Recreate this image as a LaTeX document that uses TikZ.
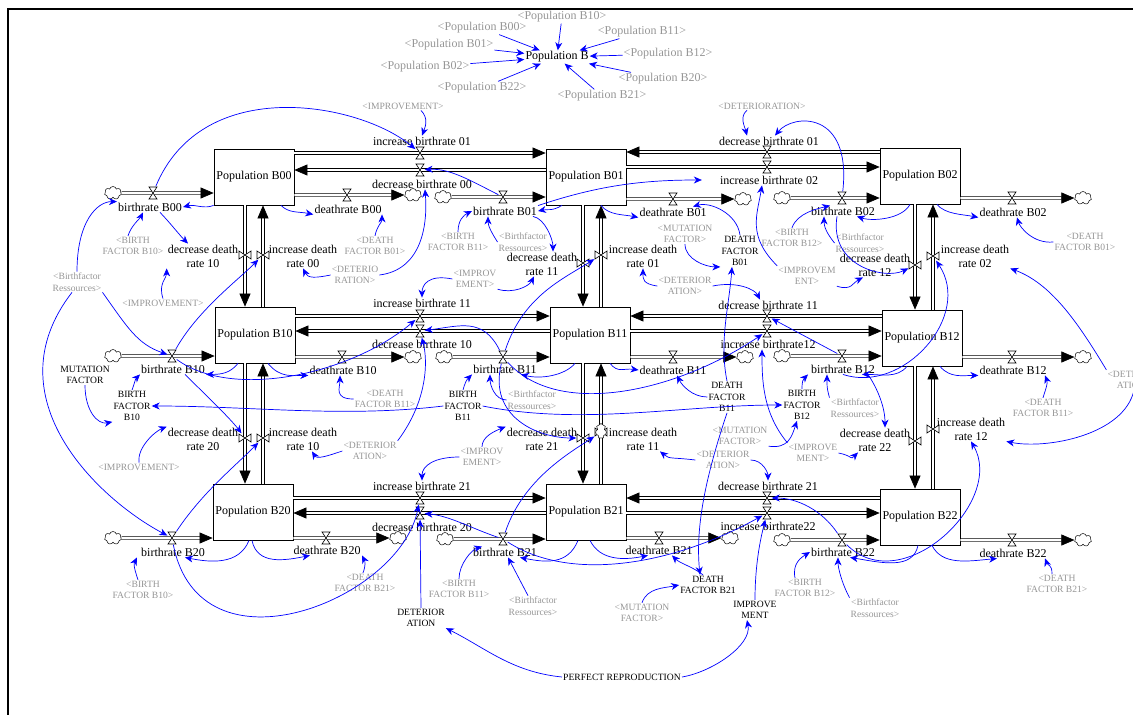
\documentclass[tikz,border=0pt]{standalone}
\usepackage{fontspec}
\setmainfont{Liberation Serif}
\usetikzlibrary{arrows.meta,shapes.symbols}
\definecolor{shadowgray}{RGB}{150,150,150}
\tikzset{
  stock/.style={draw, line width=0.8pt, minimum width=80pt, minimum height=56pt, inner sep=1pt, font=\fontsize{12}{14}\selectfont},
  lbl/.style={align=center, inner sep=1pt, font=\fontsize{12}{14}\selectfont},
  aux/.style={align=center, inner sep=1pt, font=\fontsize{9.6}{11.5}\selectfont},
  shadow/.style={aux, text=shadowgray},
  shadowbig/.style={lbl, text=shadowgray},
  cloudn/.style={cloud, cloud puffs=7, draw, fill=white, line width=0.5pt, minimum width=17pt, minimum height=13pt, inner sep=0pt},
  valveh/.style={minimum width=9pt, minimum height=13pt, inner sep=0pt},
  valvev/.style={minimum width=13pt, minimum height=9pt, inner sep=0pt},
  flow/.style={double, double distance=2pt, line width=0.6pt, -{Triangle[length=13pt,width=11pt]}},
  link/.style={draw=blue, line width=0.7pt, -{Stealth[length=8pt,width=7pt,inset=2.5pt]}},
  hourglass/.pic={\draw[fill=white, line width=0.6pt] (-4pt,6pt) -- (4pt,6pt) -- (-4pt,-6pt) -- (4pt,-6pt) -- cycle;},
  bowtie/.pic={\draw[fill=white, line width=0.6pt] (-6pt,-4pt) -- (-6pt,4pt) -- (6pt,-4pt) -- (6pt,4pt) -- cycle;}
}
\begin{document}
\begin{tikzpicture}[x=1pt, y=-1pt]
  \useasboundingbox (0,0) rectangle (1133,715);
  % 枠
  \draw[line width=2pt] (8,715) -- (8,9) -- (1133,9);

  % ストック
  \node[stock] (B00) at (254,177) {Population B00};
  \node[stock] (B01) at (586,177) {Population B01};
  \node[stock] (B02) at (920,176) {Population B02};
  \node[stock] (B10) at (255,335) {Population B10};
  \node[stock] (B11) at (590,335) {Population B11};
  \node[stock] (B12) at (922,338) {Population B12};
  \node[stock] (B20) at (253,512) {Population B20};
  \node[stock] (B21) at (586,512) {Population B21};
  \node[stock] (B22) at (920,517) {Population B22};

  % 雲
  \foreach \n/\x/\y in {cb00/113/193, cd00/413/195, cb01/443/197, cd01/743/199, cb02/782/198, cd02/1083/198,
      cb10/113/356, cd10/413/357, cb11/444/357, cd11/745/357, cb12/782/356, cd12/1083/357,
      cb20/113/538, cd20/398/538, cb21/445/539, cd21/730/538, cb22/782/540, cd22/1083/540}
    \node[cloudn] (\n) at (\x,\y) {};

  % バルブの位置
  \foreach \n/\x/\y in {vb00/153/193, vd00/347/195, vibr01/420/153, vdbr00/420/170, vb01/503/197, vd01/673/199,
      vdbr01/767/152, vibr02/767/167, vb02/842/198, vd02/1012/198,
      vb10/172/356, vd10/342/357, vibr11/420/316, vdbr10/420/331, vb11/503/357, vd11/673/357,
      vdbr11/767/316, vibr12/767/331, vb12/842/356, vd12/1012/357,
      vb20/172/538, vd20/326/538, vibr21/420/498, vdbr20/420/513, vb21/503/539, vd21/659/538,
      vdbr21/767/498, vibr22/767/513, vb22/842/540, vd22/1012/540}
    \node[valveh] (\n) at (\x,\y) {};
  \foreach \n/\x/\y in {vddr10/245/255, vidr00/263/255, vddr20/245/438, vidr10/263/438,
      vddr11/583/263, vidr01/601/255, vddr21/583/438, vidr11/601/432,
      vddr12/915/265, vidr02/933/256, vddr22/915/441, vidr12/933/429}
    \node[valvev] (\n) at (\x,\y) {};

  % 流れ(横)
  \draw[flow] (cb00) -- (B00.west |- cb00);
  \draw[flow] (B00.east |- vd00) -- (cd00);
  \draw[flow] (B00.east |- vibr01) -- (B01.west |- vibr01);
  \draw[flow] (B01.west |- vdbr00) -- (B00.east |- vdbr00);
  \draw[flow] (cb01) -- (B01.west |- cb01);
  \draw[flow] (B01.east |- vd01) -- (cd01);
  \draw[flow] (B02.west |- vdbr01) -- (B01.east |- vdbr01);
  \draw[flow] (B01.east |- vibr02) -- (B02.west |- vibr02);
  \draw[flow] (cb02) -- (B02.west |- cb02);
  \draw[flow] (B02.east |- vd02) -- (cd02);

  \draw[flow] (cb10) -- (B10.west |- cb10);
  \draw[flow] (B10.east |- vd10) -- (cd10);
  \draw[flow] (B10.east |- vibr11) -- (B11.west |- vibr11);
  \draw[flow] (B11.west |- vdbr10) -- (B10.east |- vdbr10);
  \draw[flow] (cb11) -- (B11.west |- cb11);
  \draw[flow] (B11.east |- vd11) -- (cd11);
  \draw[flow] (B12.west |- vdbr11) -- (B11.east |- vdbr11);
  \draw[flow] (B11.east |- vibr12) -- (B12.west |- vibr12);
  \draw[flow] (cb12) -- (B12.west |- cb12);
  \draw[flow] (B12.east |- vd12) -- (cd12);

  \draw[flow] (cb20) -- (B20.west |- cb20);
  \draw[flow] (B20.east |- vd20) -- (cd20);
  \draw[flow] (B20.east |- vibr21) -- (B21.west |- vibr21);
  \draw[flow] (B21.west |- vdbr20) -- (B20.east |- vdbr20);
  \draw[flow] (cb21) -- (B21.west |- cb21);
  \draw[flow] (B21.east |- vd21) -- (cd21);
  \draw[flow] (B22.west |- vdbr21) -- (B21.east |- vdbr21);
  \draw[flow] (B21.east |- vibr22) -- (B22.west |- vibr22);
  \draw[flow] (cb22) -- (B22.west |- cb22);
  \draw[flow] (B22.east |- vd22) -- (cd22);

  % 流れ(縦)
  \draw[flow] (B00.south -| vddr10) -- (B10.north -| vddr10);
  \draw[flow] (B10.north -| vidr00) -- (B00.south -| vidr00);
  \draw[flow] (B10.south -| vddr20) -- (B20.north -| vddr20);
  \draw[flow] (B20.north -| vidr10) -- (B10.south -| vidr10);
  \draw[flow] (B01.south -| vddr11) -- (B11.north -| vddr11);
  \draw[flow] (B11.north -| vidr01) -- (B01.south -| vidr01);
  \draw[flow] (B11.south -| vddr21) -- (B21.north -| vddr21);
  \draw[flow] (B21.north -| vidr11) -- (B11.south -| vidr11);
  \draw[flow] (B02.south -| vddr12) -- (B12.north -| vddr12);
  \draw[flow] (B12.north -| vidr02) -- (B02.south -| vidr02);
  \draw[flow] (B12.south -| vddr22) -- (B22.north -| vddr22);
  \draw[flow] (B22.north -| vidr12) -- (B12.south -| vidr12);

  % バルブ
  \foreach \v in {vb00,vd00,vibr01,vdbr00,vb01,vd01,vdbr01,vibr02,vb02,vd02,
      vb10,vd10,vibr11,vdbr10,vb11,vd11,vdbr11,vibr12,vb12,vd12,
      vb20,vd20,vibr21,vdbr20,vb21,vd21,vdbr21,vibr22,vb22,vd22}
    \pic at (\v) {hourglass};
  \foreach \v in {vddr10,vidr00,vddr20,vidr10,vddr11,vidr01,vddr21,vidr11,vddr12,vidr02,vddr22,vidr12}
    \pic at (\v) {bowtie};
  \node[cloudn, minimum width=11pt, minimum height=15pt] (cx) at (601,431) {};

  % 流れの名前
  \node[lbl] (lb00) at (150,207) {birthrate B00};
  \node[lbl] (ld00) at (348,209) {deathrate B00};
  \node[lbl] (libr01) at (422,141) {increase birthrate 01};
  \node[lbl] (ldbr00) at (422,184) {decrease birthrate 00};
  \node[lbl] (lb01) at (505,211) {birthrate B01};
  \node[lbl] (ld01) at (673,212) {deathrate B01};
  \node[lbl] (ldbr01) at (769,141) {decrease birthrate 01};
  \node[lbl] (libr02) at (769,180) {increase birthrate 02};
  \node[lbl] (lb02) at (843,211) {birthrate B02};
  \node[lbl] (ld02) at (1013,212) {deathrate B02};
  \node[lbl] (lddr10) at (203,256) {decrease death\\rate 10};
  \node[lbl] (lidr00) at (303,256) {increase death\\rate 00};
  \node[lbl] (lddr11) at (542,264) {decrease death\\rate 11};
  \node[lbl] (lidr01) at (643,256) {increase death\\rate 01};
  \node[lbl] (lddr12) at (875,265) {decrease death\\rate 12};
  \node[lbl] (lidr02) at (975,256) {increase death\\rate 02};

  \node[lbl] (libr11) at (422,303) {increase birthrate 11};
  \node[lbl] (ldbr10) at (422,344) {decrease birthrate 10};
  \node[lbl] (lb10) at (173,369) {birthrate B10};
  \node[lbl] (ld10) at (343,370) {deathrate B10};
  \node[lbl] (lb11) at (505,369) {birthrate B11};
  \node[lbl] (ld11) at (673,370) {deathrate B11};
  \node[lbl] (ldbr11) at (768,305) {decrease birthrate 11};
  \node[lbl] (libr12) at (768,344) {increase birthrate12};
  \node[lbl] (lb12) at (843,369) {birthrate B12};
  \node[lbl] (ld12) at (1013,370) {deathrate B12};
  \node[lbl] (lddr20) at (203,439) {decrease death\\rate 20};
  \node[lbl] (lidr10) at (303,439) {increase death\\rate 10};
  \node[lbl] (lddr21) at (542,439) {decrease death\\rate 21};
  \node[lbl] (lidr11) at (643,439) {increase death\\rate 11};
  \node[lbl] (lddr22) at (875,440) {decrease death\\rate 22};
  \node[lbl] (lidr12) at (971,429) {increase death\\rate 12};

  \node[lbl] (libr21) at (422,486) {increase birthrate 21};
  \node[lbl] (ldbr20) at (422,527) {decrease birthrate 20};
  \node[lbl] (lb20) at (173,552) {birthrate B20};
  \node[lbl] (ld20) at (327,550) {deathrate B20};
  \node[lbl] (lb21) at (505,552) {birthrate B21};
  \node[lbl] (ld21) at (659,550) {deathrate B21};
  \node[lbl] (ldbr21) at (768,486) {decrease birthrate 21};
  \node[lbl] (libr22) at (768,526) {increase birthrate22};
  \node[lbl] (lb22) at (843,552) {birthrate B22};
  \node[lbl] (ld22) at (1013,553) {deathrate B22};

  % Population B
  \node[lbl] (popB) at (557,57) {Population B};
  \node[shadowbig] (pB10) at (562,17) {<Population B10>};
  \node[shadowbig] (pB00) at (482,28) {<Population B00>};
  \node[shadowbig] (pB11) at (642,32) {<Population B11>};
  \node[shadowbig] (pB01) at (449,45) {<Population B01>};
  \node[shadowbig] (pB12) at (668,54) {<Population B12>};
  \node[shadowbig] (pB02) at (425,67) {<Population B02>};
  \node[shadowbig] (pB20) at (663,79) {<Population B20>};
  \node[shadowbig] (pB22) at (482,88) {<Population B22>};
  \node[shadowbig] (pB21) at (602,96) {<Population B21>};
  \foreach \p in {pB00,pB01,pB02,pB10,pB11,pB12,pB20,pB21,pB22}
    \draw[link] (\p) -- (popB);

  % 影の変数
  \node[shadow] (s1) at (403,106) {<IMPROVEMENT>};
  \node[shadow] (s2) at (762,106) {<DETERIORATION>};
  \node[shadow] (s3) at (133,246) {<BIRTH\\FACTOR B10>};
  \node[shadow] (s4) at (375,246) {<DEATH\\FACTOR B01>};
  \node[shadow] (s5) at (77,282) {<Birthfactor\\Ressources>};
  \node[shadow] (s6) at (163,303) {<IMPROVEMENT>};
  \node[shadow] (s7) at (355,275) {<DETERIO\\RATION>};
  \node[shadow] (s8) at (458,242) {<BIRTH\\FACTOR B11>};
  \node[shadow] (s9) at (523,242) {<Birthfactor\\Ressources>};
  \node[shadow] (s10) at (685,234) {<MUTATION\\FACTOR>};
  \node[shadow] (s11) at (685,286) {<DETERIOR\\ATION>};
  \node[shadow] (s12) at (475,279) {<IMPROV\\EMENT>};
  \node[shadow] (s13) at (792,238) {<BIRTH\\FACTOR B12>};
  \node[shadow] (s14) at (860,243) {<Birthfactor\\Ressources>};
  \node[shadow] (s15) at (807,276) {<IMPROVEM\\ENT>};
  \node[shadow] (s16) at (1085,242) {<DEATH\\FACTOR B01>};
  \node[shadow] (s17) at (139,467) {<IMPROVEMENT>};
  \node[shadow] (s18) at (385,399) {<DEATH\\FACTOR B11>};
  \node[shadow] (s19) at (370,451) {<DETERIOR\\ATION>};
  \node[shadow] (s20) at (532,400) {<Birthfactor\\Ressources>};
  \node[shadow] (s21) at (482,457) {<IMPROV\\EMENT>};
  \node[shadow] (s22) at (740,436) {<MUTATION\\FACTOR>};
  \node[shadow] (s23) at (723,460) {<DETERIOR\\ATION>};
  \node[shadow] (s24) at (855,408) {<Birthfactor\\Ressources>};
  \node[shadow] (s25) at (813,453) {<IMPROVE\\MENT>};
  \node[shadow] (s26) at (1043,408) {<DEATH\\FACTOR B11>};
  \node[shadow] (s27) at (1134,380) {<DETERIOR\\ATION>};
  \node[shadow] (s28) at (143,590) {<BIRTH\\FACTOR B10>};
  \node[shadow] (s29) at (365,583) {<DEATH\\FACTOR B21>};
  \node[shadow] (s30) at (459,589) {<BIRTH\\FACTOR B11>};
  \node[shadow] (s31) at (533,606) {<Birthfactor\\Ressources>};
  \node[shadow] (s32) at (642,613) {<MUTATION\\FACTOR>};
  \node[shadow] (s33) at (805,588) {<BIRTH\\FACTOR B12>};
  \node[shadow] (s34) at (875,608) {<Birthfactor\\Ressources>};
  \node[shadow] (s35) at (1057,584) {<DEATH\\FACTOR B21>};

  % 補助変数
  \node[aux] (a1) at (740,251) {DEATH\\FACTOR\\B01};
  \node[aux] (a2) at (85,375) {MUTATION\\FACTOR};
  \node[aux] (a3) at (132,406) {BIRTH\\FACTOR\\B10};
  \node[aux] (a4) at (463,406) {BIRTH\\FACTOR\\B11};
  \node[aux] (a5) at (727,397) {DEATH\\FACTOR\\B11};
  \node[aux] (a6) at (802,405) {BIRTH\\FACTOR\\B12};
  \node[aux] (a7) at (421,618) {DETERIOR\\ATION};
  \node[aux] (a8) at (708,585) {DEATH\\FACTOR B21};
  \node[aux] (a9) at (755,610) {IMPROVE\\MENT};
  \node[aux] (a10) at (622,677) {PERFECT REPRODUCTION};

  % 矢印(上の段)
  \draw[link] ([xshift=18pt]s1.south) .. controls +(8,8) and +(3,-8) .. (libr01.north);
  \draw[link] ([xshift=-15pt]s2.south) .. controls +(-8,6) and +(-2,-8) .. ([xshift=-22pt]ldbr01.north);
  \draw[link] ([xshift=-5pt]s3.north) .. controls +(3,-10) and +(-3,6) .. ([xshift=-7pt]lb00.south);
  \draw[link] (s5.north) .. controls +(0,-50) and +(-20,0) .. (lb00.north west);
  \draw[link] (B00.south west) .. controls +(-10,4) and +(12,-3) .. (lb00.east);
  \draw[link] ([xshift=27pt]B00.south) .. controls +(8,8) and +(-15,-3) .. (ld00.south west);
  \draw[link] (s4.north) .. controls +(2,-10) and +(0,8) .. ([xshift=34pt]ld00.south);
  \draw[link] ([xshift=10pt]lb00.south) .. controls +(8,8) and +(-8,-8) .. ([xshift=-15pt]lddr10.north);
  \draw[link] (s6.north) .. controls +(-5,-15) and +(0,10) .. (lddr10.south west);
  \draw[link] (s7.west) .. controls +(-15,3) and +(5,10) .. (lidr00.south);
  \draw[link] (s7.east) .. controls +(40,-5) and +(3,40) .. ([xshift=3pt]ldbr00.south);
  \draw[link] (vb00) .. controls +(50,-120) and +(-60,-50) .. (vibr01);
  \draw[link] (vb01) .. controls +(-30,-15) and +(30,-2) .. (vdbr00);
  \draw[link] (lb01.north east) .. controls +(60,-20) and +(-60,0) .. ([xshift=-17pt]libr02.west);
  \draw[link] (s8.north) .. controls +(0,-12) and +(-8,4) .. (lb01.west);
  \draw[link] (s9.west) .. controls +(-5,-8) and +(0,10) .. ([xshift=-17pt]lb01.south);
  \draw[link] ([xshift=28pt]lb01.south) .. controls +(12,2) and +(0,-12) .. ([xshift=11pt]lddr11.north);
  \draw[link] ([xshift=-24pt]B01.south) .. controls +(-10,6) and +(10,-2) .. (lb01.east);
  \draw[link] ([xshift=15pt]B01.south) .. controls +(8,10) and +(-15,-3) .. (ld01.south west);
  \draw[link] (a1.north) .. controls +(-3,-22) and +(17,-5) .. ([xshift=20pt]ld01.north);
  \draw[link] (s10.south) .. controls +(0,15) and +(-15,0) .. (a1.south west);
  \draw[link] (s11.west) .. controls +(-15,-2) and +(0,10) .. (lidr01.south);
  \draw[link] (s11.east) .. controls +(25,-5) and +(-5,-10) .. ([xshift=-8pt]ldbr11.north);
  \draw[link] (a5.north) .. controls +(-8,-40) and +(-3,40) .. ([xshift=-8pt]a1.south);
  \draw[link] (s13.north) .. controls +(5,-15) and +(-12,3) .. ([xshift=-13pt]lb02.north);
  \draw[link] (s14.west) .. controls +(-8,-10) and +(0,10) .. ([xshift=-19pt]lb02.south);
  \draw[link] ([xshift=-6pt]lb02.south) .. controls +(-8,50) and +(-30,15) .. (vddr12);
  \draw[link] (s15.south east) .. controls +(15,5) and +(-10,5) .. ([xshift=-12pt]lddr12.south);
  \draw[link] (s15.north west) .. controls +(-30,-30) and +(-5,30) .. ([xshift=-7pt]libr02.south);
  \draw[link] (vb02) .. controls +(10,-88) and +(18,-22) .. ([xshift=6pt]ldbr01.north);
  \draw[link] ([xshift=-10pt]B02.south) .. controls +(-8,15) and +(15,5) .. ([xshift=14pt]lb02.south);
  \draw[link] ([xshift=17pt]B02.south) .. controls +(8,10) and +(-15,-3) .. (ld02.south west);
  \draw[link] (s16.west) .. controls +(-20,2) and +(3,10) .. ([xshift=4pt]ld02.south);
  \draw[link] (s12.west) .. controls +(-25,-5) and +(0,-12) .. (libr11.north);
  \draw[link] (s12.south east) .. controls +(15,5) and +(-5,10) .. ([xshift=-8pt]lddr11.south);

  % 矢印(中の段)
  \draw[link] (s5.south east) .. controls +(25,35) and +(-35,-12) .. (vb10);
  \draw[link] ([xshift=-5pt]s5.south) .. controls +(-82,106) and +(-72,-38) .. (vb20);
  \draw[link] (vb10) .. controls +(25,-45) and +(-25,25) .. (vidr00);
  \draw[link] ([xshift=12pt]lb10.south) .. controls +(15,15) and +(-15,-20) .. (vddr20);
  \draw[link] (vb10) .. controls +(60,44) and +(-70,59) .. (vibr11);
  \draw[link] ([xshift=-17pt]B10.south) .. controls +(-8,10) and +(15,0) .. (lb10.south east);
  \draw[link] ([xshift=13pt]B10.south) .. controls +(12,15) and +(-15,0) .. (ld10.south west);
  \draw[link] (a2.south) .. controls +(0,25) and +(-15,3) .. (a3.south west);
  \draw[link] (a3.north) .. controls +(3,-8) and +(-5,5) .. ([xshift=-33pt]lb10.south);
  \draw[link] (a4.west) .. controls +(-100,12) and +(100,0) .. (a3.east);
  \draw[link] (a4.east) .. controls +(100,20) and +(-100,0) .. (a6.west);
  \draw[link] (a4.north) .. controls +(2,-8) and +(-5,5) .. ([xshift=-33pt]lb11.south);
  \draw[link] (s20.west) .. controls +(-12,0) and +(0,10) .. ([xshift=-15pt]lb11.south);
  \draw[link] (s17.north) .. controls +(-2,-15) and +(-12,5) .. (lddr20.north west);
  \draw[link] (s18.west) .. controls +(-20,0) and +(0,12) .. ([xshift=-3pt]ld10.south);
  \draw[link] (s19.west) .. controls +(-15,5) and +(5,8) .. ([xshift=9pt]lidr10.south);
  \draw[link] (s19.north east) .. controls +(30,-40) and +(8,30) .. (vdbr10);
  \draw[link] (vb11) .. controls +(-20,-40) and +(40,-5) .. (vdbr10);
  \draw[link] (vb11) .. controls +(20,-60) and +(-40,25) .. (vidr01);
  \draw[link] (vb11) .. controls +(-15,60) and +(-45,0) .. (vddr21);
  \draw[link] (vb11) .. controls +(57,63) and +(-87,59) .. (vibr12);
  \draw[link] ([xshift=-15pt]B11.south) .. controls +(-10,12) and +(20,5) .. ([xshift=16pt]lb11.south);
  \draw[link] ([xshift=20pt]B11.south) .. controls +(8,10) and +(-15,-2) .. (ld11.west);
  \draw[link] (a5.west) .. controls +(-15,0) and +(5,10) .. ([xshift=4pt]ld11.south);
  \draw[link] (s22.south east) .. controls +(20,3) and +(-5,15) .. ([xshift=-5pt]a6.south);
  \draw[link] (a6.north) .. controls +(0,-8) and +(-5,5) .. ([xshift=-35pt]lb12.south);
  \draw[link] (s24.north west) .. controls +(-3,-10) and +(0,8) .. ([xshift=-16pt]lb12.south);
  \draw[link] (s25.east) .. controls +(15,3) and +(-8,8) .. ([xshift=-17pt]lddr22.south);
  \draw[link] (s25.north west) .. controls +(-25,-30) and +(0,30) .. ([xshift=-6pt]libr12.south);
  \draw[link] (vb12) -- (vdbr11);
  \draw[link] (lb12.south) .. controls +(60,20) and +(40,60) .. (vidr02);
  \draw[link] ([xshift=25pt]lb12.south) .. controls +(10,15) and +(0,-20) .. ([xshift=10pt]lddr22.north);
  \draw[link] ([xshift=-15pt]B12.south) .. controls +(-10,12) and +(20,0) .. ([xshift=19pt]lb12.south);
  \draw[link] ([xshift=18pt]B12.south) .. controls +(10,12) and +(-15,0) .. (ld12.south west);
  \draw[link] (s26.north) .. controls +(3,-10) and +(3,8) .. ([xshift=32pt]ld12.south);
  \draw[link] (s27.north west) .. controls +(-30,-50) and +(40,15) .. (lidr02.south east);
  \draw[link] (s27.south) .. controls +(-10,45) and +(40,8) .. (lidr12.south east);

  % 矢印(下の段)
  \draw[link] (vb20) .. controls +(30,-45) and +(-30,30) .. (vidr10);
  \draw[link] (vb20) .. controls +(28,142) and +(-20,102) .. (vibr21);
  \draw[link] ([xshift=-4pt]B20.south) .. controls +(-10,25) and +(25,5) .. ([xshift=12pt]lb20.south);
  \draw[link] ([xshift=-1pt]B20.south) .. controls +(5,25) and +(-25,5) .. ([xshift=-17pt]ld20.south);
  \draw[link] ([xshift=-5pt]s28.north) .. controls +(-5,-15) and +(-3,6) .. ([xshift=-36pt]lb20.south);
  \draw[link] ([xshift=-2pt]s29.north) .. controls +(3,-8) and +(3,6) .. ([xshift=35pt]ld20.south);
  \draw[link] (s30.north) .. controls +(0,-15) and +(-10,3) .. ([xshift=-23pt]lb21.north);
  \draw[link] ([xshift=-5pt]s31.north) -- ([xshift=3pt]lb21.south);
  \draw[link] ([xshift=-8pt]B21.south) .. controls +(-10,25) and +(25,5) .. ([xshift=15pt]lb21.south);
  \draw[link] ([xshift=4pt]B21.south) .. controls +(10,20) and +(-25,5) .. ([xshift=-11pt]ld21.south);
  \draw[link] ([xshift=-5pt]a8.north) .. controls +(-10,-8) and +(8,8) .. ([xshift=13pt]ld21.south);
  \draw[link] (a5.south) .. controls +(-20,60) and +(-5,-50) .. ([xshift=-8pt]a8.north);
  \draw[link] (s32.north) .. controls +(5,-15) and +(-15,3) .. (a8.west);
  \draw[link] (a7.north) -- (vdbr20);
  \draw[link] (a10.west) .. controls +(-50,-5) and +(40,20) .. (a7.south east);
  \draw[link] (a10.east) .. controls +(30,-5) and +(5,25) .. ([xshift=-8pt]a9.south);
  \draw[link] (a9.north) .. controls +(0,-40) and +(-5,20) .. (vibr22);
  \draw[link] (s21.north) .. controls +(0,-10) and +(-12,5) .. (lddr21.north west);
  \draw[link] (s21.west) .. controls +(-25,0) and +(0,-15) .. (libr21.north);
  \draw[link] (s23.west) .. controls +(-25,-3) and +(10,8) .. ([xshift=17pt]lidr11.south);
  \draw[link] (s23.east) .. controls +(12,0) and +(0,-8) .. (ldbr21.north);
  \draw[link] (vb21) .. controls +(-30,-10) and +(30,3) .. (vdbr20);
  \draw[link] (vb21) .. controls +(20,-60) and +(-30,20) .. (vidr11);
  \draw[link] (vb21) .. controls +(70,45) and +(-90,50) .. (vibr22);
  \draw[link] (vb22) .. controls +(-20,-30) and +(30,0) .. (vdbr21);
  \draw[link] (vb22) .. controls +(60,60) and +(35,60) .. (lidr12.south);
  \draw[link] ([xshift=-2pt]B22.south) .. controls +(-5,25) and +(30,5) .. ([xshift=7pt]lb22.south);
  \draw[link] ([xshift=12pt]B22.south) .. controls +(10,20) and +(-30,3) .. ([xshift=-16pt]ld22.south);
  \draw[link] ([xshift=-10pt]s33.north) .. controls +(-3,-15) and +(-8,5) .. (lb22.west);
  \draw[link] (s34.north west) .. controls +(-8,-15) and +(0,10) .. ([xshift=-5pt]lb22.south);
  \draw[link] ([xshift=-5pt]s35.north) .. controls +(0,-10) and +(3,8) .. ([xshift=32pt]ld22.south);
\end{tikzpicture}
\end{document}
